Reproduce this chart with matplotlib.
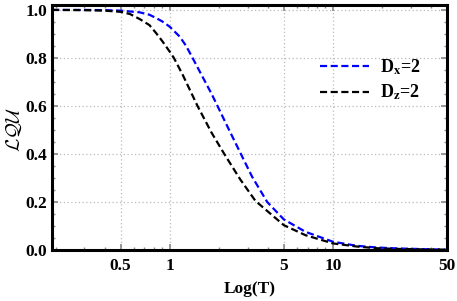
import matplotlib
matplotlib.use("Agg")
import matplotlib.pyplot as plt
from matplotlib.ticker import FixedLocator, MultipleLocator, LogLocator, NullFormatter

# -----------------------------
# Data
# -----------------------------
T_dx = [0.19, 0.3, 0.4, 0.5, 0.654, 0.75, 0.826, 0.9, 1.0, 1.15, 1.26, 1.38, 1.55,
        1.79, 1.93, 2.2, 2.45, 2.73, 3.2, 3.96, 5.0, 6.8, 10, 14, 18.5, 25, 36.6, 50]
lqu_dx = [1.0, 1.0, 0.999, 0.997, 0.99, 0.98, 0.966, 0.952, 0.93, 0.889, 0.85, 0.80, 0.735,
          0.655, 0.61, 0.53, 0.465, 0.40, 0.305, 0.20, 0.128, 0.076, 0.035, 0.018, 0.011,
          0.007, 0.004, 0.002]

T_dz = [0.19, 0.3, 0.4, 0.5, 0.57, 0.654, 0.75, 0.826, 0.9, 1.0, 1.06, 1.2, 1.48, 1.8,
        2.16, 2.7, 3.35, 5.0, 6.8, 10, 14, 18.5, 25, 36.6, 50]
lqu_dz = [1.0, 0.999, 0.997, 0.992, 0.983, 0.962, 0.937, 0.903, 0.87, 0.826, 0.80, 0.73,
          0.60, 0.49, 0.40, 0.295, 0.205, 0.104, 0.062, 0.028, 0.015, 0.008, 0.005,
          0.003, 0.002]

labels = [r"D$_\mathbf{x}$=2", r"D$_\mathbf{z}$=2"]
x_ticks = [0.5, 1, 5, 10, 50]
x_ticklabels = ["0.5", "1", "5", "10", "50"]
y_ticks = [0.0, 0.2, 0.4, 0.6, 0.8, 1.0]

# -----------------------------
# Style
# -----------------------------
plt.rcParams["font.family"] = ["Liberation Serif", "DejaVu Serif"]
plt.rcParams["font.weight"] = "bold"
plt.rcParams["mathtext.fontset"] = "stix"

fig = plt.figure(figsize=(4.57, 3.01), dpi=100)
ax = fig.add_axes([0.114, 0.169, 0.864, 0.814])

ax.plot(T_dx, lqu_dx, color="#0000ff", lw=1.6, dashes=(3.2, 1.6), label=labels[0])
ax.plot(T_dz, lqu_dz, color="black", lw=1.6, dashes=(3.2, 1.6), label=labels[1])

ax.set_xscale("log")
ax.set_xlim(0.19, 50)
ax.set_ylim(0, 1.02)

ax.xaxis.set_major_locator(FixedLocator(x_ticks))
ax.set_xticklabels(x_ticklabels)
ax.xaxis.set_minor_locator(LogLocator(base=10, subs=range(2, 10)))
ax.xaxis.set_minor_formatter(NullFormatter())
ax.yaxis.set_major_locator(FixedLocator(y_ticks))
ax.yaxis.set_minor_locator(MultipleLocator(0.05))

ax.tick_params(which="both", direction="in", top=True, right=True,
               labelsize=12.5, color="#888888")
ax.tick_params(which="major", length=4, width=1.2)
ax.tick_params(which="minor", length=2.5, width=1.0)
ax.tick_params(axis="x", which="major", pad=6)
ax.tick_params(axis="y", which="major", pad=3.5)
for lab in ax.get_xticklabels() + ax.get_yticklabels():
    lab.set_fontweight("bold")

ax.grid(True, which="major", linestyle=(0, (1, 2)), color="#bbbbbb", lw=0.9)

for sp in ax.spines.values():
    sp.set_linewidth(2.2)
    sp.set_color("black")

ax.set_xlabel("Log(T)", fontsize=12.5, fontweight="bold", labelpad=5)
ax.set_ylabel(r"$\mathcal{LQU}$", fontsize=14, math_fontfamily="cm")
ax.yaxis.set_label_coords(-0.07, 0.49)

leg = ax.legend(loc="center left", bbox_to_anchor=(0.637, 0.695), frameon=False,
                fontsize=13, handlelength=2.7, handletextpad=0.65, labelspacing=0.35)
for t in leg.get_texts():
    t.set_fontweight("bold")

fig.savefig("out.png", dpi=100)
